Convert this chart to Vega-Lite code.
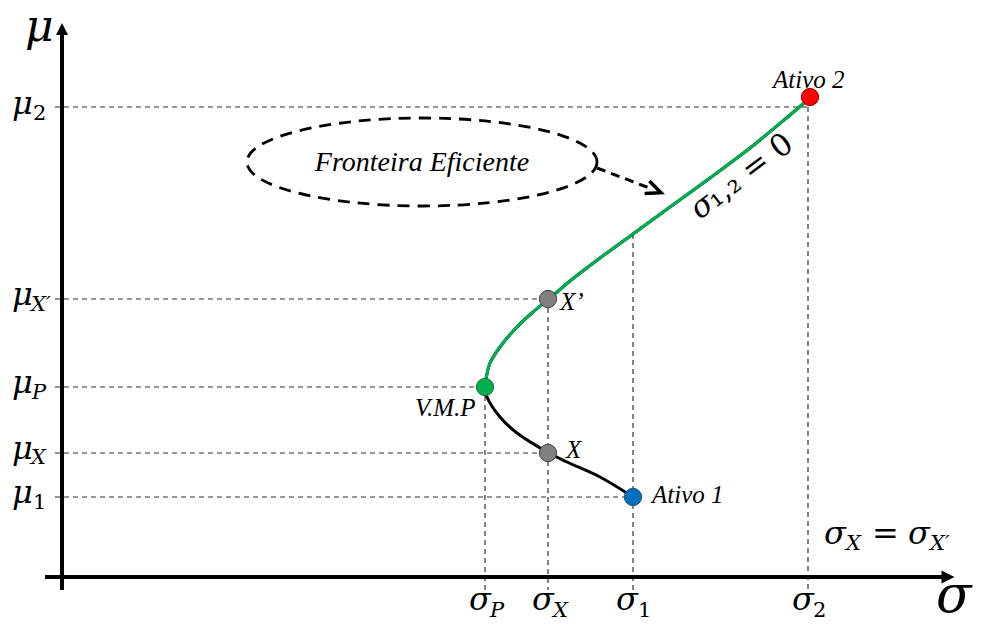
{
  "$schema": "https://vega.github.io/schema/vega-lite/v6.json",
  "width": 983,
  "height": 624,
  "padding": 0,
  "autosize": {"type": "fit", "contains": "padding"},
  "background": "white",
  "config": {"view": {"stroke": null}},
  "datasets": {
    "curve": [
      {"i": 1, "s": 571, "m": 80}, {"i": 2, "s": 538, "m": 100}, {"i": 3, "s": 505, "m": 115},
      {"i": 4, "s": 487, "m": 124}, {"i": 5, "s": 455, "m": 144}, {"i": 6, "s": 438, "m": 160},
      {"i": 7, "s": 425, "m": 180}, {"i": 8, "s": 423, "m": 190}, {"i": 9, "s": 424, "m": 198},
      {"i": 10, "s": 428, "m": 214}, {"i": 11, "s": 438, "m": 230}, {"i": 12, "s": 455, "m": 250},
      {"i": 13, "s": 471, "m": 265}, {"i": 14, "s": 487, "m": 278}, {"i": 15, "s": 508, "m": 296},
      {"i": 16, "s": 538, "m": 319}, {"i": 17, "s": 571, "m": 343}, {"i": 18, "s": 608, "m": 370},
      {"i": 19, "s": 648, "m": 399}, {"i": 20, "s": 688, "m": 429}, {"i": 21, "s": 728, "m": 462},
      {"i": 22, "s": 748, "m": 479}
    ],
    "guides": [
      {"s": -7, "m": 470, "s2": 746, "m2": 470},
      {"s": -7, "m": 278, "s2": 487, "m2": 278},
      {"s": -7, "m": 190, "s2": 423, "m2": 190},
      {"s": -7, "m": 124, "s2": 487, "m2": 124},
      {"s": -7, "m": 80, "s2": 571, "m2": 80},
      {"s": 423, "m": 190, "s2": 423, "m2": -13},
      {"s": 486, "m": 278, "s2": 486, "m2": -13},
      {"s": 571, "m": 343, "s2": 571, "m2": -13},
      {"s": 746, "m": 470, "s2": 746, "m2": -13}
    ],
    "axes": [
      {"s": 0, "m": -13, "s2": 0, "m2": 543},
      {"s": -17, "m": 0, "s2": 880, "m2": 0}
    ],
    "pts": [
      {"name": "Ativo 1", "s": 571, "m": 80},
      {"name": "X", "s": 486, "m": 124},
      {"name": "V.M.P", "s": 423, "m": 190},
      {"name": "X'", "s": 486, "m": 278},
      {"name": "Ativo 2", "s": 748, "m": 480}
    ],
    "math": [
      {"t": "μ", "s": -50, "m": 463}, {"t": "μ", "s": -50, "m": 272},
      {"t": "μ", "s": -50, "m": 184}, {"t": "μ", "s": -50, "m": 118},
      {"t": "μ", "s": -50, "m": 74},
      {"t": "σ", "s": 407, "m": -33}, {"t": "σ", "s": 470, "m": -33},
      {"t": "σ", "s": 554, "m": -33}, {"t": "σ", "s": 730, "m": -33},
      {"t": "σ", "s": 762, "m": 33}, {"t": "σ", "s": 846, "m": 33}
    ],
    "subletters": [
      {"t": "X′", "s": -31, "m": 266},
      {"t": "P", "s": -30, "m": 178}, {"t": "X", "s": -31, "m": 113},
      {"t": "P", "s": 428, "m": -40}, {"t": "X", "s": 491, "m": -40},
      {"t": "X", "s": 784, "m": 27}, {"t": "X′", "s": 868, "m": 27}
    ],
    "subdigits": [
      {"t": "2", "s": -29, "m": 457},
      {"t": "1", "s": -29, "m": 68},
      {"t": "1", "s": 576, "m": -40}, {"t": "2", "s": 751, "m": -40}
    ],
    "labels": [
      {"t": "Ativo 2", "s": 711, "m": 489},
      {"t": "Ativo 1", "s": 590, "m": 74},
      {"t": "X’", "s": 498, "m": 267},
      {"t": "X", "s": 504, "m": 119},
      {"t": "V.M.P", "s": 353, "m": 161}
    ]
  },
  "encoding": {
    "x": {"field": "s", "type": "quantitative", "scale": {"domain": [-62, 921], "nice": false, "zero": false}, "axis": null},
    "y": {"field": "m", "type": "quantitative", "scale": {"domain": [-47, 577], "nice": false, "zero": false}, "axis": null}
  },
  "layer": [
    {
      "data": {"name": "guides"},
      "mark": {"type": "rule", "stroke": "#333333", "strokeWidth": 1.2, "strokeDash": [5, 4]},
      "encoding": {"x2": {"field": "s2"}, "y2": {"field": "m2"}}
    },
    {
      "data": {"name": "axes"},
      "mark": {"type": "rule", "stroke": "black", "strokeWidth": 4},
      "encoding": {"x2": {"field": "s2"}, "y2": {"field": "m2"}}
    },
    {
      "data": {"values": [{"s": 0, "m": 548}]},
      "mark": {"type": "point", "shape": "M0,-1 L1,1 L-1,1 Z", "size": 144, "filled": true, "fill": "black", "opacity": 1, "strokeWidth": 0}
    },
    {
      "data": {"values": [{"s": 886, "m": 0}]},
      "mark": {"type": "point", "shape": "M1,0 L-1,1 L-1,-1 Z", "size": 169, "filled": true, "fill": "black", "opacity": 1, "strokeWidth": 0}
    },
    {
      "data": {"values": [{"s": 360, "m": 415}]},
      "mark": {"type": "point", "shape": "M1,0 C1,0.1389 0.5523,0.2514 0,0.2514 C-0.5523,0.2514 -1,0.1389 -1,0 C-1,-0.1389 -0.5523,-0.2514 0,-0.2514 C0.5523,-0.2514 1,-0.1389 1,0 Z", "size": 122500, "filled": false, "stroke": "black", "strokeWidth": 2.8, "strokeDash": [12, 8], "opacity": 1}
    },
    {
      "data": {"values": [{"s": 535, "m": 409, "s2": 590, "m2": 388}]},
      "mark": {"type": "rule", "stroke": "black", "strokeWidth": 3, "strokeDash": [9, 6]},
      "encoding": {"x2": {"field": "s2"}, "y2": {"field": "m2"}}
    },
    {
      "data": {"values": [{"s": 592, "m": 387}]},
      "mark": {"type": "point", "shape": "M-1,-0.9 L1,0 L-1,0.9", "size": 225, "filled": false, "stroke": "black", "strokeWidth": 3.5, "angle": 21, "opacity": 1}
    },
    {
      "data": {"name": "curve"},
      "mark": {"type": "line", "stroke": "black", "strokeWidth": 3, "interpolate": "catmull-rom"},
      "encoding": {"order": {"field": "i", "type": "quantitative"}}
    },
    {
      "data": {"name": "curve"},
      "transform": [{"filter": "datum.i >= 8"}],
      "mark": {"type": "line", "stroke": "#00B050", "strokeWidth": 3, "interpolate": "catmull-rom"},
      "encoding": {"order": {"field": "i", "type": "quantitative"}}
    },
    {
      "data": {"name": "pts"},
      "mark": {"type": "point", "shape": "circle", "size": 300, "filled": true, "opacity": 1, "strokeWidth": 1},
      "encoding": {
        "fill": {"field": "name", "type": "nominal", "legend": null, "scale": {"domain": ["Ativo 1", "X", "V.M.P", "X'", "Ativo 2"], "range": ["#0070C0", "#808080", "#00B050", "#808080", "#FF0000"]}},
        "stroke": {"field": "name", "type": "nominal", "legend": null, "scale": {"domain": ["Ativo 1", "X", "V.M.P", "X'", "Ativo 2"], "range": ["#1F4E79", "#404040", "#1E6B3A", "#404040", "#A00000"]}}
      }
    },
    {
      "data": {"name": "math"},
      "mark": {"type": "text", "font": "DejaVu Serif", "fontStyle": "italic", "fontSize": 32, "align": "left", "baseline": "alphabetic", "color": "black"},
      "encoding": {"text": {"field": "t"}}
    },
    {
      "data": {"values": [{"t": "=", "s": 810, "m": 33}]},
      "mark": {"type": "text", "font": "DejaVu Serif", "fontSize": 32, "align": "left", "baseline": "alphabetic", "color": "black"},
      "encoding": {"text": {"field": "t"}}
    },
    {
      "data": {"name": "subletters"},
      "mark": {"type": "text", "font": "DejaVu Serif", "fontStyle": "italic", "fontSize": 21, "align": "left", "baseline": "alphabetic", "color": "black"},
      "encoding": {"text": {"field": "t"}}
    },
    {
      "data": {"name": "subdigits"},
      "mark": {"type": "text", "font": "DejaVu Serif", "fontSize": 21, "align": "left", "baseline": "alphabetic", "color": "black"},
      "encoding": {"text": {"field": "t"}}
    },
    {
      "data": {"values": [{"t": "μ", "s": -37, "m": 536}]},
      "mark": {"type": "text", "font": "DejaVu Serif", "fontStyle": "italic", "fontSize": 44, "align": "left", "baseline": "alphabetic", "color": "black"},
      "encoding": {"text": {"field": "t"}}
    },
    {
      "data": {"values": [{"t": "σ", "s": 874, "m": -35}]},
      "mark": {"type": "text", "font": "DejaVu Serif", "fontStyle": "italic", "fontSize": 52, "align": "left", "baseline": "alphabetic", "color": "black"},
      "encoding": {"text": {"field": "t"}}
    },
    {
      "data": {"name": "labels"},
      "mark": {"type": "text", "font": "Liberation Serif", "fontStyle": "italic", "fontSize": 25, "align": "left", "baseline": "alphabetic", "color": "black"},
      "encoding": {"text": {"field": "t"}}
    },
    {
      "data": {"values": [{"t": "Fronteira Eficiente", "s": 360, "m": 406}]},
      "mark": {"type": "text", "font": "Liberation Serif", "fontStyle": "italic", "fontSize": 28, "align": "center", "baseline": "alphabetic", "color": "black"},
      "encoding": {"text": {"field": "t"}}
    },
    {
      "data": {"values": [{"t": "σ", "s": 632, "m": 364}]},
      "mark": {"type": "text", "font": "DejaVu Serif", "fontStyle": "italic", "fontSize": 31, "align": "left", "baseline": "middle", "angle": 323, "color": "black"},
      "encoding": {"text": {"field": "t"}}
    },
    {
      "data": {"values": [{"t": "₁,₂ = 0", "s": 648, "m": 376}]},
      "mark": {"type": "text", "font": "DejaVu Serif", "fontSize": 31, "align": "left", "baseline": "middle", "angle": 323, "color": "black"},
      "encoding": {"text": {"field": "t"}}
    }
  ]
}
